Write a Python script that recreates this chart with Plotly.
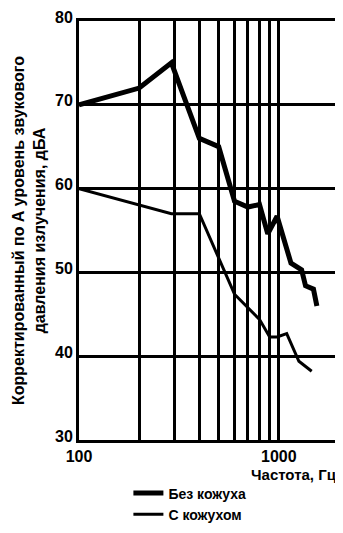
"""
Уровень звукового давления: с кожухом и без кожуха
"""
import plotly.graph_objects as go

# Без кожуха (жирная линия)
freq_bare = [100, 200, 290, 400, 500, 600, 700, 800, 880, 980, 1150, 1300, 1360, 1490, 1550]
level_bare = [70, 72, 75, 66, 65, 58.5, 57.8, 58.1, 54.6, 56.7, 51.1, 50.3, 48.4, 48, 46]

# С кожухом (тонкая линия)
freq_case = [100, 200, 290, 400, 490, 600, 800, 900, 980, 1095, 1260, 1460]
level_case = [60, 58, 57, 57, 52.2, 47.4, 44.4, 42.3, 42.3, 42.7, 39.4, 38.2]

x_tickvals = [100, 200, 300, 400, 500, 600, 700, 800, 900, 1000, 2000]
x_ticktext = ["100", "", "", "", "", "", "", "", "", "1000", ""]
y_tickvals = [30, 40, 50, 60, 70, 80]

fig = go.Figure()

fig.add_trace(go.Scatter(
    x=freq_bare, y=level_bare,
    mode='lines',
    name='Без кожуха',
    line=dict(color='black', width=5)
))

fig.add_trace(go.Scatter(
    x=freq_case, y=level_case,
    mode='lines',
    name='С кожухом',
    line=dict(color='black', width=3)
))

fig.update_xaxes(
    type='log',
    range=[2, 3.301],
    tickvals=x_tickvals,
    ticktext=x_ticktext,
    showgrid=True,
    gridcolor='black',
    gridwidth=2.5,
    showline=True,
    linecolor='black',
    linewidth=3,
    mirror=True,
    ticks='',
    tickfont=dict(size=16),
    zeroline=False
)

fig.update_yaxes(
    range=[30, 80],
    tickvals=y_tickvals,
    showgrid=True,
    gridcolor='black',
    gridwidth=2.5,
    showline=True,
    linecolor='black',
    linewidth=3,
    mirror=True,
    ticks='',
    tickfont=dict(size=16),
    ticklabelshift=-4,
    ticklabeloverflow='allow',
    zeroline=False,
    title=dict(
        text="Корректированный по А уровень звукового<br>давления излучения, дБА",
        font=dict(size=16),
        standoff=6
    )
)

# подпись оси X справа под осью
fig.add_annotation(
    text="<b>Частота, Гц</b>",
    xref='paper', yref='paper',
    x=1.0, y=-0.058,
    xanchor='right', yanchor='top',
    showarrow=False,
    font=dict(size=15)
)

# страница добавляет отступ 8px сверху и слева
fig.update_layout(
    width=335,
    height=525,
    margin=dict(l=71, r=1, t=5, b=93),
    paper_bgcolor='white',
    plot_bgcolor='white',
    font=dict(family='Liberation Sans, Arial', color='black', weight='bold'),
    showlegend=True,
    legend=dict(
        x=0.19, y=-0.216,
        xanchor='left', yanchor='bottom',
        font=dict(size=14),
        bgcolor='rgba(0,0,0,0)',
        tracegroupgap=0
    )
)

fig.write_html("out.html")
